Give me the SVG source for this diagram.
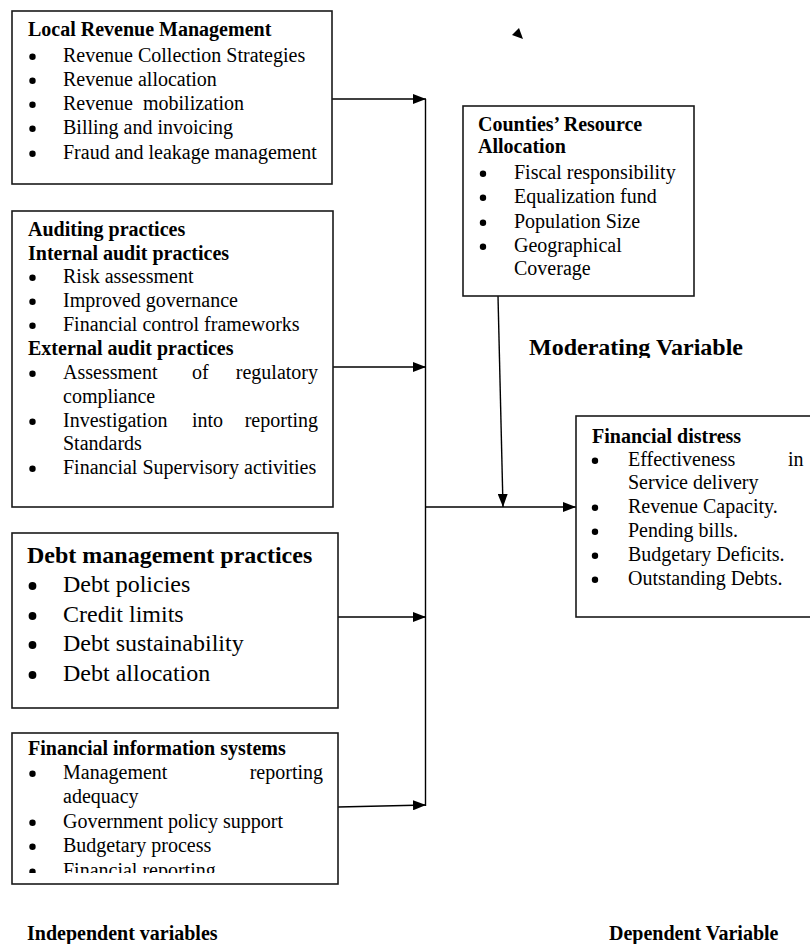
<svg xmlns="http://www.w3.org/2000/svg" width="810" height="944" viewBox="0 0 810 944">
<style>
.box{fill:#fff;stroke:#1a1a1a;stroke-width:1.6}
.t{font-family:"Liberation Serif","Times New Roman",serif;font-size:20px;fill:#000}
.b{font-weight:bold}
.big{font-size:24px}
.ln{stroke:#000;stroke-width:1.4;fill:none}
.dot{fill:#000}
</style>
<defs>
<marker id="ah" markerWidth="13" markerHeight="10" refX="13" refY="5" orient="auto" markerUnits="userSpaceOnUse">
<path d="M0,0 L13,5 L0,10 Z" fill="#000"/>
</marker>
<clipPath id="clip4"><rect x="12" y="733" width="326" height="140"/></clipPath>
<clipPath id="clipMod"><rect x="520" y="320" width="250" height="38"/></clipPath>
</defs>

<g id="connectors">
<line class="ln" x1="425.5" y1="99" x2="425.5" y2="806"/>
<line class="ln" x1="332" y1="99" x2="426" y2="99" marker-end="url(#ah)"/>
<line class="ln" x1="333" y1="367" x2="426" y2="367" marker-end="url(#ah)"/>
<line class="ln" x1="338" y1="617" x2="426" y2="617" marker-end="url(#ah)"/>
<line class="ln" x1="338" y1="807" x2="426" y2="805" marker-end="url(#ah)"/>
<line class="ln" x1="425.5" y1="507" x2="576" y2="507" marker-end="url(#ah)"/>
<line class="ln" x1="498" y1="296" x2="503" y2="507" marker-end="url(#ah)"/>
<polygon points="519,28 512,35 523,39" fill="#000"/>
</g>

<g id="local-revenue">
<rect class="box" x="12" y="11" width="320" height="173"/>
<text class="t b" x="28" y="36">Local Revenue Management</text>
<circle class="dot" cx="32.5" cy="56.7" r="3.2"/><text class="t" x="63" y="62">Revenue Collection Strategies</text>
<circle class="dot" cx="32.5" cy="80.7" r="3.2"/><text class="t" x="63" y="86">Revenue allocation</text>
<circle class="dot" cx="32.5" cy="104.7" r="3.2"/><text class="t" x="63" y="110" xml:space="preserve">Revenue  mobilization</text>
<circle class="dot" cx="32.5" cy="128.7" r="3.2"/><text class="t" x="63" y="134">Billing and invoicing</text>
<circle class="dot" cx="32.5" cy="153.7" r="3.2"/><text class="t" x="63" y="159">Fraud and leakage management</text>
</g>

<g id="auditing">
<rect class="box" x="12" y="211" width="321" height="296"/>
<text class="t b" x="28" y="236">Auditing practices</text>
<text class="t b" x="28" y="260">Internal audit practices</text>
<circle class="dot" cx="32.5" cy="277.7" r="3.2"/><text class="t" x="63" y="283">Risk assessment</text>
<circle class="dot" cx="32.5" cy="301.7" r="3.2"/><text class="t" x="63" y="307">Improved governance</text>
<circle class="dot" cx="32.5" cy="325.7" r="3.2"/><text class="t" x="63" y="331">Financial control frameworks</text>
<text class="t b" x="28" y="355">External audit practices</text>
<circle class="dot" cx="32.5" cy="373.7" r="3.2"/><text class="t" x="63" y="379">Assessment</text><text class="t" x="192" y="379">of</text><text class="t" x="318" y="379" text-anchor="end">regulatory</text>
<text class="t" x="63" y="403">compliance</text>
<circle class="dot" cx="32.5" cy="421.7" r="3.2"/><text class="t" x="63" y="427">Investigation</text><text class="t" x="192" y="427">into</text><text class="t" x="318" y="427" text-anchor="end">reporting</text>
<text class="t" x="63" y="450">Standards</text>
<circle class="dot" cx="32.5" cy="468.7" r="3.2"/><text class="t" x="63" y="474">Financial Supervisory activities</text>
</g>

<g id="debt">
<rect class="box" x="12" y="533" width="326" height="175"/>
<text class="t b big" x="27" y="563">Debt management practices</text>
<circle class="dot" cx="32.5" cy="586" r="3.9"/><text class="t big" x="63" y="592">Debt policies</text>
<circle class="dot" cx="32.5" cy="616" r="3.9"/><text class="t big" x="63" y="622">Credit limits</text>
<circle class="dot" cx="32.5" cy="645" r="3.9"/><text class="t big" x="63" y="651">Debt sustainability</text>
<circle class="dot" cx="32.5" cy="675" r="3.9"/><text class="t big" x="63" y="681">Debt allocation</text>
</g>

<g id="fis">
<rect class="box" x="12" y="733" width="326" height="151"/>
<g clip-path="url(#clip4)">
<text class="t b" x="28" y="755">Financial information systems</text>
<circle class="dot" cx="32.5" cy="773.7" r="3.2"/><text class="t" x="63" y="779">Management</text><text class="t" x="323" y="779" text-anchor="end">reporting</text>
<text class="t" x="63" y="803">adequacy</text>
<circle class="dot" cx="32.5" cy="822.7" r="3.2"/><text class="t" x="63" y="828">Government policy support</text>
<circle class="dot" cx="32.5" cy="846.7" r="3.2"/><text class="t" x="63" y="852">Budgetary process</text>
<circle class="dot" cx="32.5" cy="871.7" r="3.2"/><text class="t" x="63" y="877">Financial reporting</text>
</g>
</g>

<g id="counties">
<rect class="box" x="463" y="106" width="231" height="190"/>
<text class="t b" x="478" y="131">Counties’ Resource</text>
<text class="t b" x="478" y="153">Allocation</text>
<circle class="dot" cx="483" cy="173.7" r="3.2"/><text class="t" x="514" y="179">Fiscal responsibility</text>
<circle class="dot" cx="483" cy="197.7" r="3.2"/><text class="t" x="514" y="203">Equalization fund</text>
<circle class="dot" cx="483" cy="222.7" r="3.2"/><text class="t" x="514" y="228">Population Size</text>
<circle class="dot" cx="483" cy="246.7" r="3.2"/><text class="t" x="514" y="252">Geographical</text>
<text class="t" x="514" y="275">Coverage</text>
</g>

<g id="moderating-label">
<text class="t b big" x="529" y="355" clip-path="url(#clipMod)">Moderating Variable</text>
</g>

<g id="financial-distress">
<rect class="box" x="576" y="416" width="250" height="201"/>
<text class="t b" x="592" y="443">Financial distress</text>
<circle class="dot" cx="595" cy="460.7" r="3.2"/><text class="t" x="628" y="466">Effectiveness</text><text class="t" x="788" y="466">in</text>
<text class="t" x="628" y="489">Service delivery</text>
<circle class="dot" cx="595" cy="507.7" r="3.2"/><text class="t" x="628" y="513">Revenue Capacity.</text>
<circle class="dot" cx="595" cy="531.7" r="3.2"/><text class="t" x="628" y="537">Pending bills.</text>
<circle class="dot" cx="595" cy="555.7" r="3.2"/><text class="t" x="628" y="561">Budgetary Deficits.</text>
<circle class="dot" cx="595" cy="579.7" r="3.2"/><text class="t" x="628" y="585">Outstanding Debts.</text>
</g>

<g id="labels">
<text class="t b" x="27" y="940">Independent variables</text>
<text class="t b" x="609" y="940">Dependent Variable</text>
</g>
</svg>
